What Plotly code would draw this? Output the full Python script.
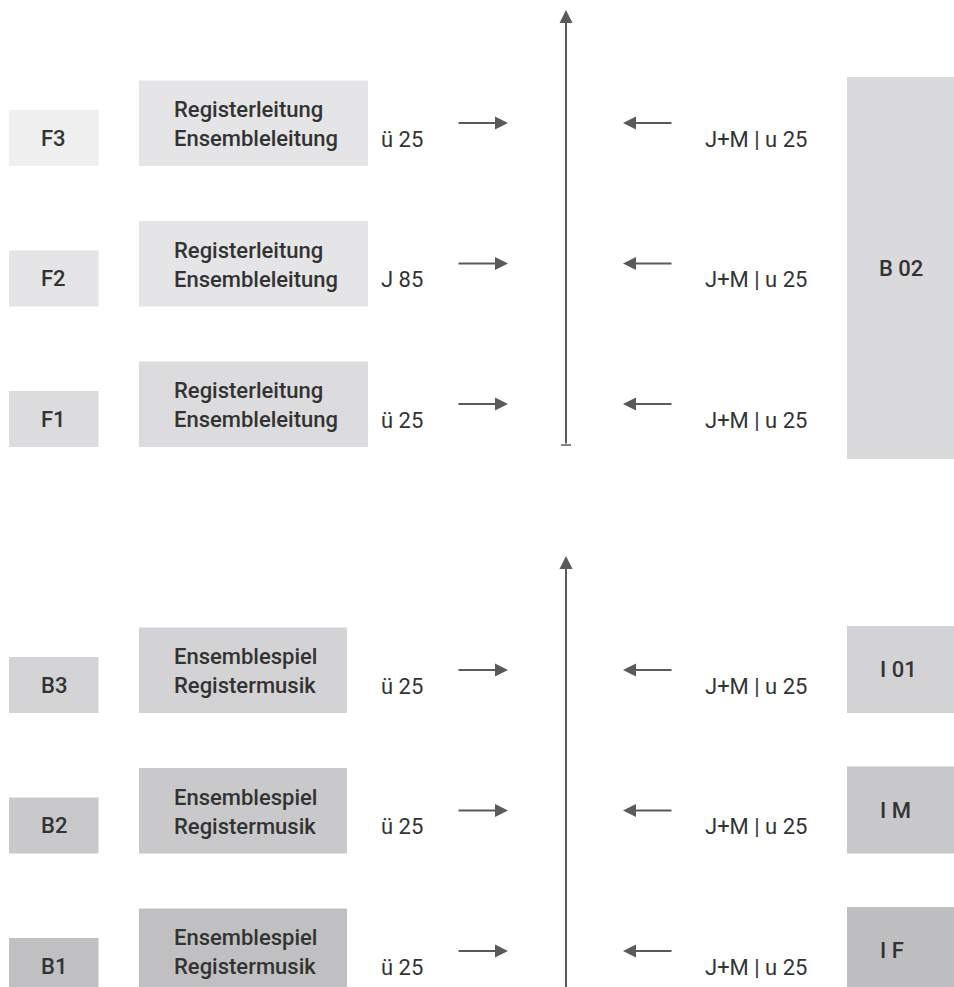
import plotly.graph_objects as go

# ---- data (text content of the diagram) ----
top_small_labels = ["F3", "F2", "F1"]
top_big_labels = ["Registerleitung<br>Ensembleleitung"] * 3
top_left_codes = ["ü 25", "J 85", "ü 25"]
top_right_codes = ["J+M | u 25"] * 3
top_right_box = "B 02"

bottom_small_labels = ["B3", "B2", "B1"]
bottom_big_labels = ["Ensemblespiel<br>Registermusik"] * 3
bottom_left_codes = ["ü 25"] * 3
bottom_right_codes = ["J+M | u 25"] * 3
bottom_right_boxes = ["I 01", "I M", "I F"]

# ---- styles ----
top_small_colors = ["#efefef", "#e5e5e7", "#dcdcde"]
top_big_colors = ["#e5e5e7", "#e5e5e7", "#dcdcde"]
top_right_color = "#dadadc"
bottom_small_colors = ["#d4d4d6", "#c9c9cb", "#c0c0c2"]
bottom_big_colors = ["#d3d3d5", "#c9c9cb", "#c0c0c2"]
bottom_right_colors = ["#d3d3d5", "#c8c8ca", "#bebec0"]

W, H = 954, 987
FONT = "Roboto"
TXT = "#333333"
LINE = "#5a5a5a"
FS = 22

fig = go.Figure()
shapes = []
ann = []


def rect(x0, x1, y0, y1, color):
    shapes.append(dict(type="rect", xref="x", yref="y", x0=x0, x1=x1, y0=y0, y1=y1,
                       fillcolor=color, line=dict(width=0), layer="below"))


def text(x, y, s, xanchor="center", weight=500, size=FS):
    ann.append(dict(x=x, y=y, xref="x", yref="y", text=s, showarrow=False,
                    xanchor=xanchor, yanchor="middle", align="left",
                    font=dict(family=FONT, size=size, color=TXT, weight=weight)))


def arrow(x0, y0, x1, y1):
    ann.append(dict(x=x1, y=y1, ax=x0, ay=y0, xref="x", yref="y", axref="x", ayref="y",
                    text="", showarrow=True, arrowhead=2, arrowsize=1.3, arrowwidth=2,
                    arrowcolor=LINE, standoff=0, startstandoff=0))


def section(base, step, small, big, lcodes, rcodes, small_cols, big_cols, big_x1):
    centers = [base + i * step for i in range(len(small))]
    for c, s, b, lc, rc, sc, bc in zip(centers, small, big, lcodes, rcodes, small_cols, big_cols):
        rect(9, 98.5, c - 28, c + 28, sc)
        text(53.5, c, s)
        rect(139, big_x1, c - 57.5, c + 28, bc)
        text(172, c - 14, b, xanchor="left")
        text(379, c + 1, lc, xanchor="left", weight=400)
        arrow(457, c - 15, 508, c - 15)
        arrow(673, c - 15, 623, c - 15)
        text(703, c + 1, rc, xanchor="left", weight=400)
    return centers


# top section
tc = section(138, 140.5, top_small_labels, top_big_labels, top_left_codes, top_right_codes,
             top_small_colors, top_big_colors, 368)
rect(847, 960, tc[0] - 61, tc[-1] + 40, top_right_color)
text(900.5, (tc[0] - 61 + tc[-1] + 40) / 2, top_right_box)
arrow(566, 445, 566, 10)
shapes.append(dict(type="line", xref="x", yref="y", x0=561, x1=571, y0=445, y1=445,
                   line=dict(color=LINE, width=1.5)))

# bottom section
bc = section(685, 140.5, bottom_small_labels, bottom_big_labels, bottom_left_codes,
             bottom_right_codes, bottom_small_colors, bottom_big_colors, 347)
for c, lab, col in zip(bc, bottom_right_boxes, bottom_right_colors):
    rect(847, 960, c - 59, c + 28, col)
    text(878, c - 15.5, lab, xanchor="left")
arrow(566, 1010, 566, 556)

fig.update_layout(
    width=W, height=H,
    margin=dict(l=0, r=0, t=0, b=0),
    paper_bgcolor="white", plot_bgcolor="white",
    xaxis=dict(range=[0, W], visible=False, fixedrange=True),
    yaxis=dict(range=[H, 0], visible=False, fixedrange=True),
    shapes=shapes, annotations=ann, showlegend=False,
)
fig.write_html(
    "out.html",
    config={"displayModeBar": False},
    post_script="document.body.style.margin='0';document.body.style.overflow='hidden';",
)
